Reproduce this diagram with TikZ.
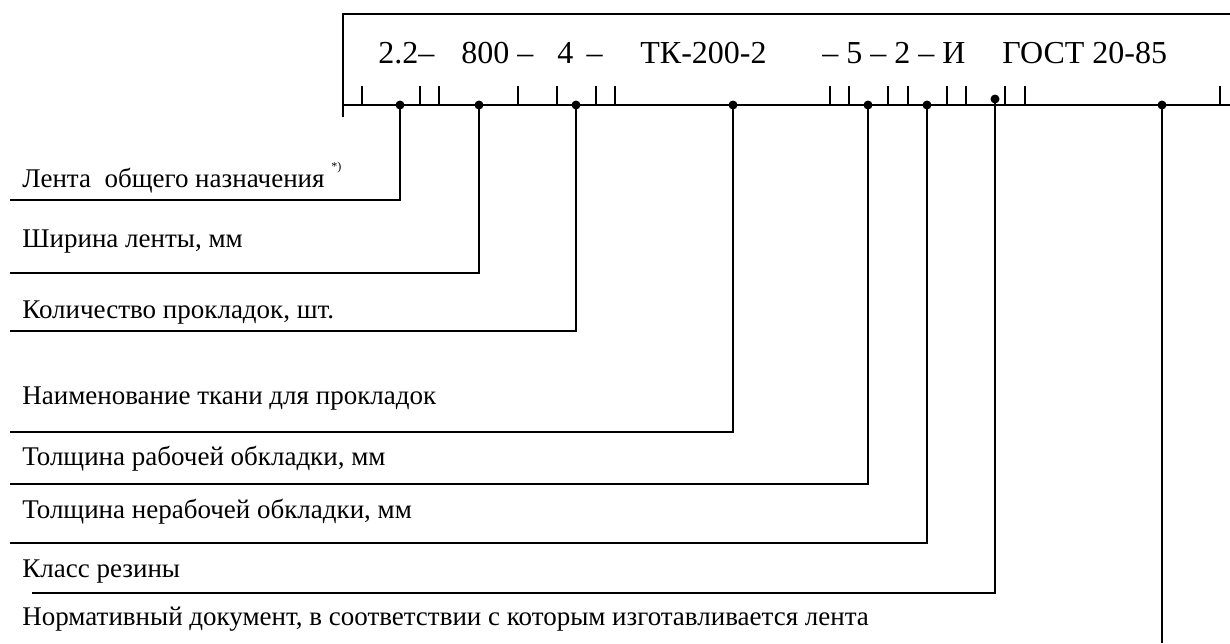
\documentclass[tikz,border=0pt]{standalone}
\usepackage{fontspec}
\setmainfont{Liberation Serif}
\usetikzlibrary{positioning}

\begin{document}
\begin{tikzpicture}[
  x=0.5pt, y=-0.5pt,
  code/.style={anchor=base west, inner sep=0pt, font=\fontsize{16}{18}\selectfont},
  lbl/.style={anchor=base west, inner sep=0pt, font=\fontsize{13.5}{15}\selectfont},
  lead/.style={line width=1pt},
  dot/.style={circle, fill=black, inner sep=0pt, minimum size=4.5pt}
]
\useasboundingbox (0,0) rectangle (1230,643);

% frame and scale
\draw[line width=1.3pt] (343,117) -- (343,14) -- (1230,14);
\draw[lead] (343,105) -- (1230,105);
\foreach \t in {362,420,439,518,557,596,615,830,849,888,908,947,966,1005,1025,1220}
  \draw[lead] (\t,86) -- (\t,105);

% designation
\node[code] (c1) at (378,63) {2.2–};
\node[code] (c2) at (461,63) {800 –};
\node[code] (c3) at (557,63) {4 \,–};
\node[code] (c4) at (640,63) {ТК-200-2};
\node[code] (c5) at (822,63) {– 5 – 2 – И};
\node[code] (c6) at (1002,63) {ГОСТ 20-85};

% points on the scale
\node[dot] (d1) at (400,105) {};
\node[dot] (d2) at (479,105) {};
\node[dot] (d3) at (576,105) {};
\node[dot] (d4) at (733,105) {};
\node[dot] (d5) at (868,105) {};
\node[dot] (d6) at (927,105) {};
\node[dot] (d7) at (995,99) {};
\node[dot] (d8) at (1162,105) {};

% explanations
\node[lbl] (l1) at (22,187) {Лента\ \ общего назначения \raisebox{0.6em}{\fontsize{6}{7}\selectfont *)}};
\node[lbl] (l2) at (22,247) {Ширина ленты, мм};
\node[lbl] (l3) at (22,318) {Количество прокладок, шт.};
\node[lbl] (l4) at (22,404) {Наименование ткани для прокладок};
\node[lbl] (l5) at (22,465) {Толщина рабочей обкладки, мм};
\node[lbl] (l6) at (22,518) {Толщина нерабочей обкладки, мм};
\node[lbl] (l7) at (22,577) {Класс резины};
\node[lbl] (l8) at (22,625) {Нормативный документ, в соответствии с которым изготавливается лента};

\coordinate (e1) at (10,200);
\coordinate (e2) at (10,273);
\coordinate (e3) at (10,331);
\coordinate (e4) at (10,432);
\coordinate (e5) at (10,484);
\coordinate (e6) at (10,543);
\coordinate (e7) at (32,593);
\coordinate (e8) at (1162,643);

\draw[lead] (d1.center) |- (e1);
\draw[lead] (d2.center) |- (e2);
\draw[lead] (d3.center) |- (e3);
\draw[lead] (d4.center) |- (e4);
\draw[lead] (d5.center) |- (e5);
\draw[lead] (d6.center) |- (e6);
\draw[lead] (d7.center) |- (e7);
\draw[lead] (d8.center) -- (e8);
\end{tikzpicture}
\end{document}
